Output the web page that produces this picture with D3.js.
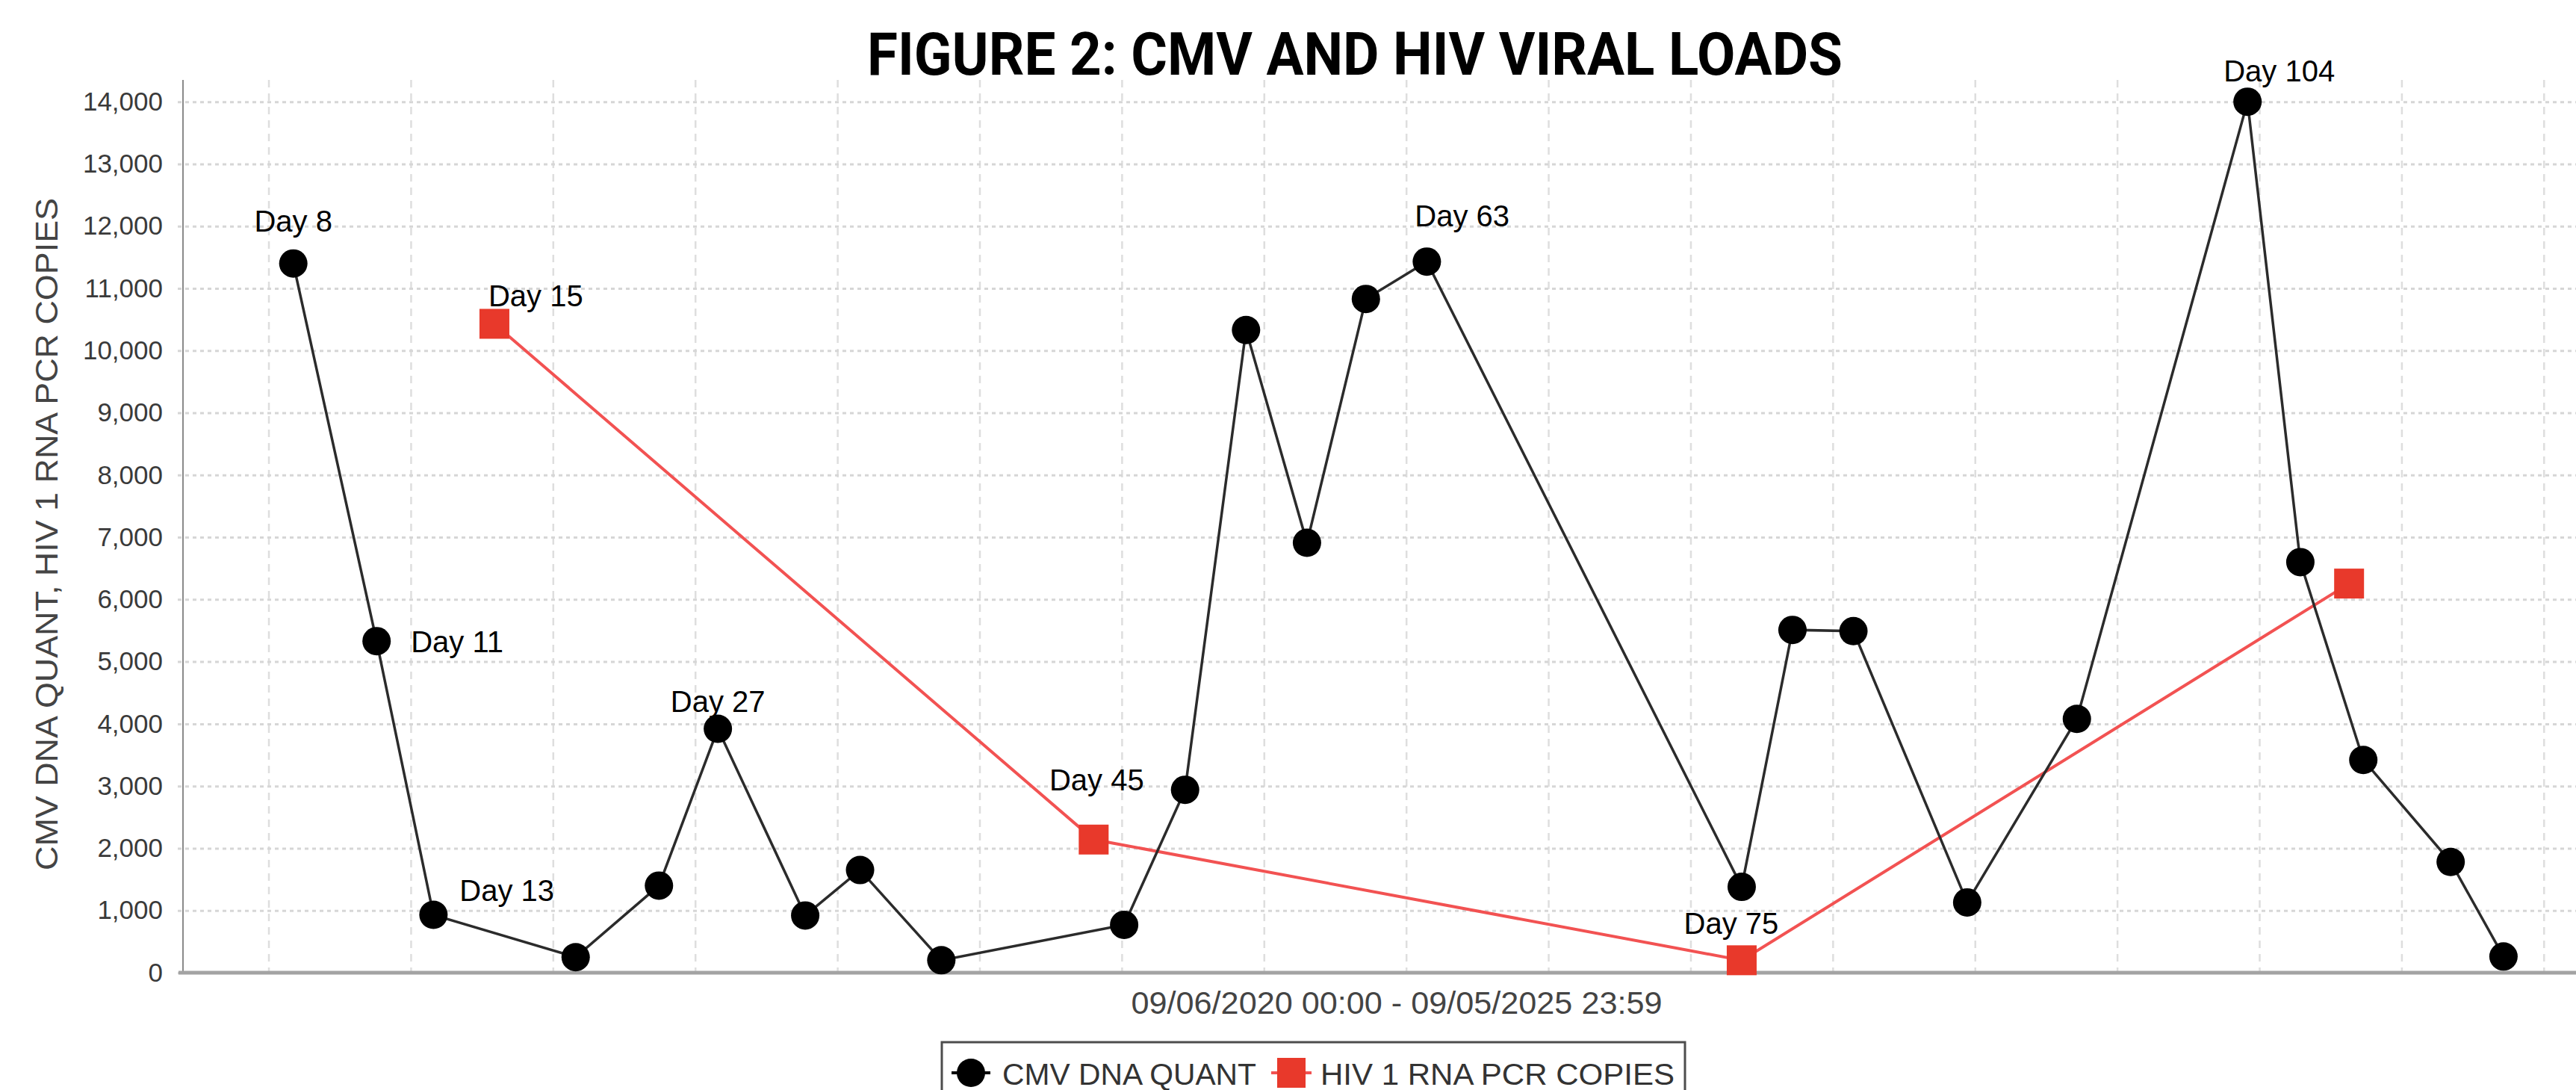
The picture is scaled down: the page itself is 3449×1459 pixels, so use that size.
<!DOCTYPE html>
<html>
<head>
<meta charset="utf-8">
<script src="https://cdnjs.cloudflare.com/ajax/libs/d3/7.8.5/d3.min.js"></script>
<style>
    body { margin: 0; background: #ffffff; }
    svg { display: block; }
</style>
</head>
<body>
<script>
"use strict";

// CMV DNA QUANT: position in days (from first weekly gridline) and copies
const cmvDays = [1.2, 5.3, 8.1, 15.1, 19.2, 22.1, 26.4, 29.1, 33.1, 42.1, 45.1, 48.1, 51.1,
    54.0, 57.0, 72.5, 75.0, 78.0, 83.6, 89.0, 97.4, 100.0, 103.1, 107.4, 110.0];
const cmvValues = [11400, 5330, 930, 250, 1400, 3920, 920, 1650, 200, 770, 2940, 10330, 6910,
    10830, 11430, 1380, 5510, 5490, 1130, 4080, 14000, 6600, 3420, 1780, 260];

// HIV 1 RNA PCR COPIES
const hivDays = [11.1, 40.6, 72.5, 102.4];
const hivValues = [10430, 2140, 200, 6255];

// Axis ticks
const yTicks = d3.range(0, 14001, 1000);
const weekTicks = d3.range(0, 113, 7);

// Point annotations: series, point index, text
const dayLabels = [
    ["cmv", 0, "Day 8"],
    ["cmv", 1, "Day 11"],
    ["cmv", 2, "Day 13"],
    ["hiv", 0, "Day 15"],
    ["cmv", 5, "Day 27"],
    ["hiv", 1, "Day 45"],
    ["cmv", 14, "Day 63"],
    ["hiv", 2, "Day 75"],
    ["cmv", 20, "Day 104"]
];

const seriesNames = ["CMV DNA QUANT", "HIV 1 RNA PCR COPIES"];
const chartTitle = "FIGURE 2: CMV AND HIV VIRAL LOADS";
const xTitle = "09/06/2020 00:00 - 09/05/2025 23:59";
const yTitle = "CMV DNA QUANT, HIV 1 RNA PCR COPIES";

(function(){
    const measurements = {
        width: 3449,
        height: 1459,
        left: 245,
        right: 3449,
        top: 107,
        bottom: 1302
    }

    // placement of each day label relative to its point [dx, dy, anchor]
    const labelOffsets = {
        "Day 8": [0, -43, "middle"],
        "Day 11": [46, 15, "start"],
        "Day 13": [35, -19, "start"],
        "Day 15": [-8, -23, "start"],
        "Day 27": [0, -23, "middle"],
        "Day 45": [4, -66, "middle"],
        "Day 63": [-16, -47, "start"],
        "Day 75": [-14, -35, "middle"],
        "Day 104": [-32, -27, "start"]
    }

    const font = "'Liberation Sans', Arial, sans-serif";

    const svg = d3.select("body").append("svg")
        .attr("width", measurements.width)
        .attr("height", measurements.height);

    svg.append("rect")
        .attr("width", measurements.width)
        .attr("height", measurements.height)
        .attr("fill", "#ffffff");

    // Scales
    const scaleX = d3.scaleLinear()
        .domain([-4.23, 113.57])
        .range([measurements.left, measurements.right]);
    const scaleY = d3.scaleLinear()
        .domain([0, 14350])
        .range([measurements.bottom, measurements.top]);

    // Vertical weekly gridlines
    svg.append("g")
        .selectAll("line")
        .data(weekTicks)
        .enter()
        .append("line")
            .attr("x1", d => scaleX(d))
            .attr("x2", d => scaleX(d))
            .attr("y1", measurements.top)
            .attr("y2", measurements.bottom)
            .attr("stroke", "#dedede")
            .attr("stroke-width", 2.5)
            .attr("stroke-dasharray", "10,8");

    // Y axis with horizontal gridlines
    const yAxis = d3.axisLeft(scaleY)
        .tickValues(yTicks)
        .tickFormat(d3.format(","))
        .tickSize(-(measurements.right - measurements.left))
        .tickPadding(27);

    const yG = svg.append("g")
        .attr("transform", `translate(${measurements.left},0)`)
        .call(yAxis);
    yG.select(".domain").remove();
    yG.selectAll(".tick line")
        .attr("x1", -7)
        .attr("stroke", "#d6d6d6")
        .attr("stroke-width", 3)
        .attr("stroke-dasharray", "5,5");
    yG.selectAll(".tick text")
        .attr("font-family", font)
        .attr("font-size", 35)
        .attr("fill", "#3a3a3a");

    // Axis lines
    svg.append("line")
        .attr("x1", measurements.left)
        .attr("x2", measurements.left)
        .attr("y1", measurements.top)
        .attr("y2", measurements.bottom)
        .attr("stroke", "#8a8a8a")
        .attr("stroke-width", 2);
    svg.append("line")
        .attr("x1", measurements.left - 6)
        .attr("x2", measurements.right)
        .attr("y1", measurements.bottom)
        .attr("y2", measurements.bottom)
        .attr("stroke", "#a3a3a3")
        .attr("stroke-width", 5);

    // Series lines
    const cmvData = cmvDays.map((d, i) => ({ day: d, value: cmvValues[i] }));
    const hivData = hivDays.map((d, i) => ({ day: d, value: hivValues[i] }));

    const line = d3.line()
        .x(d => scaleX(d.day))
        .y(d => scaleY(d.value));

    svg.append("path")
        .datum(hivData)
        .attr("d", line)
        .attr("fill", "none")
        .attr("stroke", "#f25252")
        .attr("stroke-width", 4);

    svg.append("path")
        .datum(cmvData)
        .attr("d", line)
        .attr("fill", "none")
        .attr("stroke", "#2b2b2b")
        .attr("stroke-width", 3.5);

    svg.append("g")
        .selectAll("rect")
        .data(hivData)
        .enter()
        .append("rect")
            .attr("x", d => scaleX(d.day) - 20)
            .attr("y", d => scaleY(d.value) - 20)
            .attr("width", 40)
            .attr("height", 40)
            .attr("fill", "#e8392b");

    svg.append("g")
        .selectAll("circle")
        .data(cmvData)
        .enter()
        .append("circle")
            .attr("cx", d => scaleX(d.day))
            .attr("cy", d => scaleY(d.value))
            .attr("r", 19)
            .attr("fill", "#000000");

    // Day annotations
    svg.append("g")
        .selectAll("text")
        .data(dayLabels)
        .enter()
        .append("text")
            .attr("x", d => {
                const pt = d[0] === "cmv" ? cmvData[d[1]] : hivData[d[1]];
                return scaleX(pt.day) + labelOffsets[d[2]][0];
            })
            .attr("y", d => {
                const pt = d[0] === "cmv" ? cmvData[d[1]] : hivData[d[1]];
                return scaleY(pt.value) + labelOffsets[d[2]][1];
            })
            .attr("text-anchor", d => labelOffsets[d[2]][2])
            .attr("font-family", font)
            .attr("font-size", 40)
            .attr("fill", "#000000")
            .text(d => d[2]);

    // Title
    svg.append("text")
        .attr("x", 1814)
        .attr("y", 100)
        .attr("text-anchor", "middle")
        .attr("font-family", "'Liberation Sans Narrow', 'Roboto', Arial, sans-serif")
        .attr("font-weight", "bold")
        .attr("font-size", 80)
        .attr("textLength", 1306)
        .attr("lengthAdjust", "spacingAndGlyphs")
        .attr("fill", "#000000")
        .text(chartTitle);

    // Axis titles
    svg.append("text")
        .attr("x", 1870)
        .attr("y", 1357)
        .attr("text-anchor", "middle")
        .attr("font-family", font)
        .attr("font-size", 43)
        .attr("textLength", 711)
        .attr("lengthAdjust", "spacingAndGlyphs")
        .attr("fill", "#444444")
        .text(xTitle);

    svg.append("text")
        .attr("transform", "translate(77,715) rotate(-90)")
        .attr("text-anchor", "middle")
        .attr("font-family", font)
        .attr("font-size", 42)
        .attr("textLength", 900)
        .attr("lengthAdjust", "spacingAndGlyphs")
        .attr("fill", "#444444")
        .text(yTitle);

    // Legend
    const legend = svg.append("g");
    legend.append("rect")
        .attr("x", 1261)
        .attr("y", 1395)
        .attr("width", 995)
        .attr("height", 100)
        .attr("fill", "#ffffff")
        .attr("stroke", "#4d4d4d")
        .attr("stroke-width", 3);

    legend.append("line")
        .attr("x1", 1274).attr("x2", 1326)
        .attr("y1", 1436).attr("y2", 1436)
        .attr("stroke", "#000000").attr("stroke-width", 4);
    legend.append("circle")
        .attr("cx", 1300).attr("cy", 1436).attr("r", 19)
        .attr("fill", "#000000");
    legend.append("line")
        .attr("x1", 1702).attr("x2", 1756)
        .attr("y1", 1436).attr("y2", 1436)
        .attr("stroke", "#f25252").attr("stroke-width", 4);
    legend.append("rect")
        .attr("x", 1710).attr("y", 1416).attr("width", 38).attr("height", 40)
        .attr("fill", "#e8392b");

    const legendText = [[1342, 340], [1768, 474]];
    legend.selectAll(".leg")
        .data(seriesNames)
        .enter()
        .append("text")
            .attr("x", (d, i) => legendText[i][0])
            .attr("y", 1452)
            .attr("font-family", font)
            .attr("font-size", 40)
            .attr("textLength", (d, i) => legendText[i][1])
            .attr("lengthAdjust", "spacingAndGlyphs")
            .attr("fill", "#333333")
            .text(d => d);
})()
</script>
</body>
</html>
